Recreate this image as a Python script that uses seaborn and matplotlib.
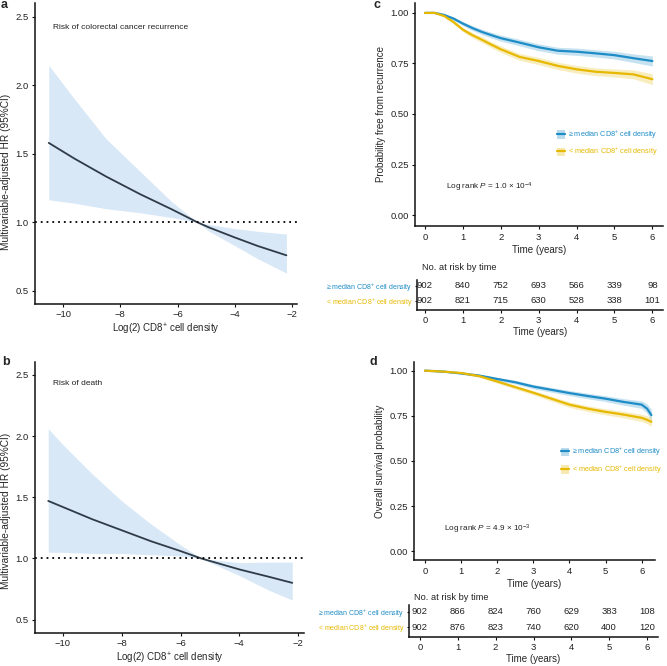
import matplotlib
matplotlib.use('Agg')
import matplotlib.pyplot as plt
import seaborn as sns
from matplotlib.patches import Patch
from matplotlib.lines import Line2D

# ---- spline HR data ----
a_x = [-10.5, -9.6, -8.5, -7.3, -6.2, -5.3, -4.9, -4.0, -3.2, -2.2]
a_hr = [1.58, 1.465, 1.335, 1.205, 1.095, 1.00, 0.963, 0.89, 0.828, 0.76]
a_lo = [1.165, 1.14, 1.10, 1.07, 1.035, 1.00, 0.935, 0.83, 0.735, 0.63]
a_hi = [2.145, 1.90, 1.61, 1.37, 1.15, 1.00, 0.985, 0.955, 0.935, 0.915]

b_x = [-10.5, -10, -9, -8, -7, -6, -5.3, -4, -3, -2.2]
b_hr = [1.47, 1.42, 1.32, 1.23, 1.14, 1.06, 1.00, 0.91, 0.85, 0.80]
b_lo = [1.05, 1.05, 1.04, 1.04, 1.03, 1.02, 1.00, 0.86, 0.74, 0.66]
b_hi = [2.06, 1.93, 1.69, 1.47, 1.28, 1.11, 1.00, 0.965, 0.97, 0.97]

# ---- Kaplan-Meier curves ----
c_time = [0, 0.25, 0.5, 0.75, 1.0, 1.25, 1.5, 1.75, 2.0, 2.5, 3.0, 3.5, 4.0, 4.5, 5.0, 5.5, 6.0]
c_high = [1.0, 1.0, 0.99, 0.972, 0.947, 0.925, 0.906, 0.89, 0.875, 0.853, 0.83, 0.813, 0.808, 0.80, 0.791, 0.776, 0.762]
c_high_ci = [0, 0.002, 0.005, 0.008, 0.01, 0.012, 0.013, 0.014, 0.015, 0.016, 0.017, 0.017, 0.018, 0.018, 0.019, 0.021, 0.025]
c_low = [1.0, 1.0, 0.985, 0.955, 0.917, 0.89, 0.867, 0.843, 0.82, 0.782, 0.762, 0.738, 0.721, 0.709, 0.703, 0.696, 0.672]
c_low_ci = [0, 0.002, 0.005, 0.009, 0.011, 0.013, 0.014, 0.015, 0.016, 0.017, 0.018, 0.018, 0.019, 0.019, 0.02, 0.022, 0.027]

d_time = [0, 0.5, 1.0, 1.5, 2.0, 2.5, 3.0, 3.5, 4.0, 4.5, 5.0, 5.5, 6.0, 6.15, 6.27]
d_high = [1.0, 0.995, 0.985, 0.973, 0.954, 0.936, 0.912, 0.894, 0.876, 0.86, 0.845, 0.827, 0.812, 0.79, 0.754]
d_high_ci = [0, 0.003, 0.005, 0.007, 0.009, 0.01, 0.012, 0.013, 0.014, 0.015, 0.016, 0.018, 0.021, 0.026, 0.032]
d_low = [1.0, 0.995, 0.987, 0.97, 0.94, 0.909, 0.878, 0.845, 0.812, 0.79, 0.772, 0.757, 0.739, 0.728, 0.717]
d_low_ci = [0, 0.003, 0.005, 0.007, 0.009, 0.011, 0.012, 0.014, 0.015, 0.016, 0.017, 0.018, 0.02, 0.022, 0.025]

# ---- number at risk ----
risk_years = [0, 1, 2, 3, 4, 5, 6]
c_risk_high = [902, 840, 752, 693, 566, 339, 98]
c_risk_low = [902, 821, 715, 630, 528, 338, 101]
d_risk_high = [902, 866, 824, 760, 629, 383, 108]
d_risk_low = [902, 876, 823, 740, 620, 400, 120]

group_labels = ['≥ median CD8$^{+}$ cell density', '< median CD8$^{+}$ cell density']
BLUE = '#1E8CC6'
YELLOW = '#E7B800'

sns.set_theme(style='ticks')
plt.rcParams['font.family'] = ['Liberation Sans', 'DejaVu Sans']
plt.rcParams['mathtext.fontset'] = 'custom'
plt.rcParams['mathtext.rm'] = 'Liberation Sans'
plt.rcParams['mathtext.it'] = 'Liberation Sans:italic'
plt.rcParams['axes.linewidth'] = 1.1
plt.rcParams['axes.edgecolor'] = '#111111'
plt.rcParams['xtick.major.size'] = 2.5
plt.rcParams['ytick.major.size'] = 2.0
plt.rcParams['xtick.major.width'] = 0.8
plt.rcParams['ytick.major.width'] = 0.8
plt.rcParams['xtick.major.pad'] = 2.5
plt.rcParams['ytick.major.pad'] = 2.5

W, H = 667, 666
fig = plt.figure(figsize=(W / 100, H / 100), dpi=100)


def px_axes(left, top, right, bottom):
    return fig.add_axes([left / W, 1 - bottom / H, (right - left) / W, (bottom - top) / H])


def style(ax, fs=6.8):
    sns.despine(ax=ax)
    ax.tick_params(labelsize=fs, colors='#111111')
    ax.tick_params(axis='both', labelcolor='#222222')


def hr_panel(ax, x, hr, lo, hi, note, xlim, ylim, label_xy):
    ax.fill_between(x, lo, hi, color='#D8E8F7', lw=0)
    sns.lineplot(x=x, y=hr, ax=ax, color='#2F3B47', lw=1.3)
    ax.axhline(1.0, color='black', ls=(0, (1, 2.2)), lw=1.3)
    ax.set_xlim(*xlim)
    ax.set_ylim(*ylim)
    ax.set_xticks([-10, -8, -6, -4, -2])
    ax.set_yticks([0.5, 1.0, 1.5, 2.0, 2.5])
    ax.set_xlabel('Log(2) CD8$^{+}$ cell density', fontsize=7, labelpad=1.5)
    ax.set_ylabel('Multivariable-adjusted HR (95%CI)', fontsize=7.3)
    ax.yaxis.set_label_coords(*label_xy)
    ax.text(0.067, 0.92, note, transform=ax.transAxes, fontsize=6.0, va='center', ha='left', color='#222222')
    style(ax)
    ax.tick_params(axis='x', pad=2)


def km_panel(ax, t, s1, ci1, s2, ci2, xlim, ylim, ylabel, ptxt, p_y, leg_anchor):
    for s, ci, col in [(s1, ci1, BLUE), (s2, ci2, YELLOW)]:
        lo = [v - c for v, c in zip(s, ci)]
        hi = [v + c for v, c in zip(s, ci)]
        ax.fill_between(t, lo, hi, color=col, alpha=0.25, lw=0)
        sns.lineplot(x=t, y=s, ax=ax, color=col, lw=1.6)
    ax.set_xlim(*xlim)
    ax.set_ylim(*ylim)
    ax.set_xticks(range(7))
    ax.set_yticks([0, 0.25, 0.5, 0.75, 1.0])
    ax.set_yticklabels(['0.00', '0.25', '0.50', '0.75', '1.00'])
    ax.set_xlabel('Time (years)', fontsize=7, labelpad=2)
    ax.set_ylabel(ylabel, fontsize=7, labelpad=3)
    ax.text(0.125, p_y, ptxt, transform=ax.transAxes, fontsize=5.85,
            color='#222222', ha='left', va='center')
    handles = [(Patch(facecolor=c, alpha=0.3, lw=0), Line2D([], [], color=c, lw=1.6)) for c in (BLUE, YELLOW)]
    leg = ax.legend(handles, group_labels, loc='upper left', bbox_to_anchor=leg_anchor, frameon=False,
                    fontsize=5.2, handlelength=1.1, handleheight=1.4, handletextpad=0.45,
                    labelspacing=0.7, borderpad=0, borderaxespad=0)
    for txt, c in zip(leg.get_texts(), (BLUE, YELLOW)):
        txt.set_color(c)
    style(ax)


def risk_table(ax, high, low, xlim, ylim):
    for x, n in zip(risk_years, high):
        ax.text(x, 1, str(n), ha='center', va='center', fontsize=6.8, color='#222222')
    for x, n in zip(risk_years, low):
        ax.text(x, 0, str(n), ha='center', va='center', fontsize=6.8, color='#222222')
    ax.set_xlim(*xlim)
    ax.set_ylim(*ylim)
    ax.set_xticks(risk_years)
    ax.set_yticks([1, 0])
    ax.set_yticklabels(group_labels)
    ax.set_xlabel('Time (years)', fontsize=7, labelpad=1.5)
    style(ax)
    ax.tick_params(axis='y', labelsize=5.0, length=1.5, pad=1.5)
    ax.tick_params(axis='x', pad=2)
    for lab, c in zip(ax.get_yticklabels(), (BLUE, YELLOW)):
        lab.set_color(c)


# panel a
ax_a = px_axes(35, 3, 297, 304)
hr_panel(ax_a, a_x, a_hr, a_lo, a_hi, 'Risk of colorectal cancer recurrence', (-10.98, -1.83), (0.405, 2.60),
         (-0.091, 0.44))

# panel b
ax_b = px_axes(35, 362, 304, 633)
hr_panel(ax_b, b_x, b_hr, b_lo, b_hi, 'Risk of death', (-10.95, -1.80), (0.39, 2.606), (-0.089, 0.45))

# panel c
ax_c = px_axes(415, 3, 663, 226)
km_panel(ax_c, c_time, c_high, c_high_ci, c_low, c_low_ci, (-0.265, 6.28), (-0.054, 1.049),
         'Probability free from recurrence', 'Log rank $P$ = 1.0 × 10$^{-4}$', 0.175, (0.573, 0.437))
tab_c = px_axes(417, 280, 663, 310)
risk_table(tab_c, c_risk_high, c_risk_low, (-0.21, 6.28), (-0.59, 1.37))
fig.text(422 / W, 1 - 267 / H, 'No. at risk by time', fontsize=6.7, va='center', ha='left', color='#222222')

# panel d
ax_d = px_axes(414, 362, 655, 560)
km_panel(ax_d, d_time, d_high, d_high_ci, d_low, d_low_ci, (-0.305, 6.37), (-0.048, 1.048),
         'Overall survival probability', 'Log rank $P$ = 4.9 × 10$^{-3}$', 0.157, (0.61, 0.575))
tab_d = px_axes(409, 605, 658, 637)
risk_table(tab_d, d_risk_high, d_risk_low, (-0.29, 6.29), (-0.63, 1.42))
fig.text(414 / W, 1 - 597 / H, 'No. at risk by time', fontsize=6.7, va='center', ha='left', color='#222222')

# panel letters
for lab, x, y in [('a', 1, 5), ('b', 2, 362), ('c', 373, 5), ('d', 370, 362)]:
    fig.text(x / W, 1 - y / H, lab, fontsize=9, fontweight='bold', va='center', ha='left')

fig.savefig('out.png', dpi=100)
